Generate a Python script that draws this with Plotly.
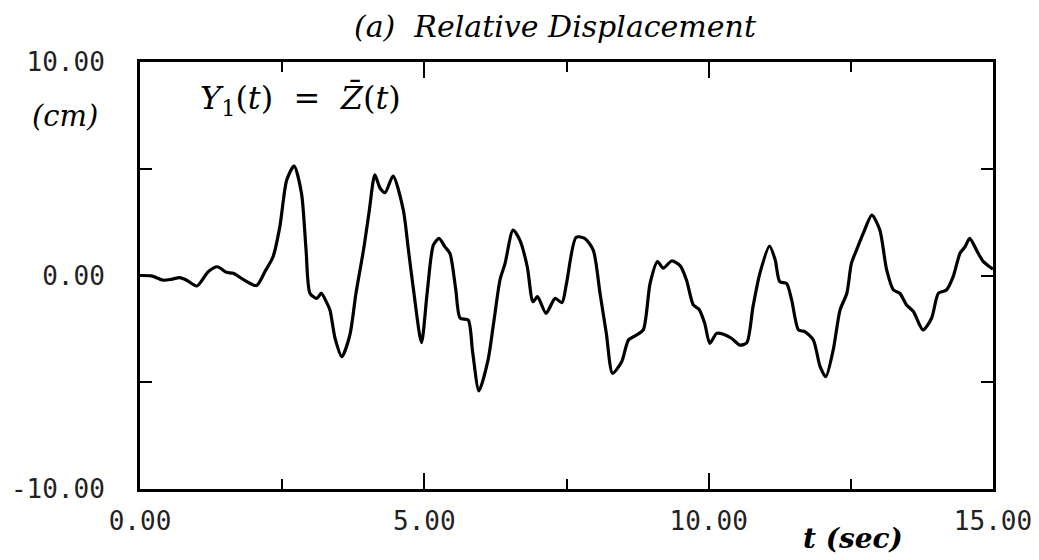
import plotly.graph_objects as go

t_sec = [0.00, 0.20, 0.41, 0.55, 0.70, 0.82, 1.00, 1.20, 1.36, 1.52, 1.64, 1.85, 2.05, 2.20, 2.34,
         2.46, 2.58, 2.71, 2.84, 2.92, 2.99, 3.11, 3.19, 3.27, 3.34, 3.43, 3.55, 3.69, 3.80, 3.93,
         4.03, 4.13, 4.22, 4.31, 4.45, 4.63, 4.72, 4.81, 4.95, 5.05, 5.16, 5.26, 5.36, 5.45, 5.55,
         5.63, 5.77, 5.85, 5.96, 6.12, 6.22, 6.33, 6.42, 6.56, 6.68, 6.81, 6.91, 6.99, 7.14, 7.30,
         7.42, 7.50, 7.67, 7.82, 7.97, 8.09, 8.20, 8.31, 8.47, 8.59, 8.73, 8.85, 8.97, 9.10, 9.20,
         9.35, 9.50, 9.61, 9.73, 9.83, 9.93, 10.02, 10.14, 10.26, 10.40, 10.55, 10.67, 10.78, 10.90,
         11.07, 11.17, 11.25, 11.37, 11.46, 11.58, 11.69, 11.84, 11.96, 12.06, 12.19, 12.31, 12.43,
         12.51, 12.60, 12.72, 12.87, 13.01, 13.13, 13.25, 13.36, 13.48, 13.60, 13.77, 13.92, 14.04,
         14.18, 14.30, 14.42, 14.51, 14.59, 14.71, 14.83, 15.00]
disp_cm = [0.00, -0.02, -0.22, -0.18, -0.10, -0.22, -0.49, 0.18, 0.41, 0.15, 0.10, -0.24, -0.47, 0.20, 0.88,
           2.30, 4.47, 5.13, 3.85, 1.20, -0.84, -1.07, -0.83, -1.20, -1.62, -2.94, -3.80, -2.79, -0.80, 1.19,
           3.00, 4.71, 4.10, 3.88, 4.66, 3.07, 1.20, -0.68, -3.15, -0.80, 1.43, 1.74, 1.35, 1.04, -0.60,
           -2.00, -2.08, -3.60, -5.40, -3.96, -2.20, -0.21, 0.57, 2.13, 1.66, 0.41, -1.23, -0.99, -1.77, -1.07,
           -1.27, -0.37, 1.79, 1.74, 1.19, -0.84, -2.70, -4.58, -4.04, -3.02, -2.79, -2.55, -0.37, 0.65, 0.34,
           0.68, 0.45, -0.21, -1.38, -1.58, -2.24, -3.18, -2.71, -2.75, -2.94, -3.26, -3.15, -1.46, 0.10,
           1.38, 0.73, -0.29, -0.37, -1.15, -2.55, -2.63, -3.02, -4.27, -4.74, -3.49, -1.62, -0.83,
           0.57, 1.19, 1.98, 2.83, 2.13, 0.26, -0.68, -0.83, -1.38, -1.69, -2.55, -2.00, -0.83,
           -0.68, -0.05, 1.04, 1.35, 1.74, 1.19, 0.65, 0.30]

x_major = [0, 5, 10, 15]
x_major_text = ["0.00", "5.00", "10.00", "15.00"]
x_minor = [2.5, 7.5, 12.5]
y_major = [-10, 0, 10]
y_major_text = ["-10.00", "0.00", "10.00"]
y_minor = [-5, 5]

title_text = "(a)  Relative Displacement"
ylabel_text = "(cm)"
xlabel_text = "t (sec)"
legend_text = "<i>Y</i><sub>1</sub>(<i>t</i>)  =  <i>Z̄</i>(<i>t</i>)"

fig = go.Figure()
fig.add_trace(go.Scatter(x=t_sec, y=disp_cm, mode="lines",
                         line=dict(color="black", width=3.2, shape="spline", smoothing=0.7),
                         showlegend=False, hoverinfo="skip"))

tick_font = dict(family="DejaVu Sans Mono", size=26, color="#222")
serif_it = "DejaVu Serif"

W, H = 1039, 560
L, R, T, B = 140, 46, 62, 71
pw, ph = W - L - R, H - T - B


def px(xp):
    return (xp - L) / pw


def py(yp):
    return (H - B - yp) / ph


fig.update_layout(
    width=W, height=H,
    margin=dict(l=L, r=R, t=T, b=B, autoexpand=False),
    paper_bgcolor="white", plot_bgcolor="white",
    xaxis=dict(range=[0, 15], tickvals=x_major, ticktext=x_major_text, automargin=False,
               ticks="inside", ticklen=16, tickwidth=2, tickcolor="black",
               minor=dict(tickvals=x_minor, ticks="inside", ticklen=10, tickwidth=2, tickcolor="black"),
               showline=True, linewidth=3, linecolor="black", mirror="ticks",
               showgrid=False, zeroline=False, tickfont=tick_font, ticklabelstandoff=7),
    yaxis=dict(range=[-10, 10], tickvals=y_major, ticktext=y_major_text, automargin=False,
               ticks="inside", ticklen=12, tickwidth=2, tickcolor="black",
               minor=dict(tickvals=y_minor, ticks="inside", ticklen=12, tickwidth=2, tickcolor="black"),
               showline=True, linewidth=3, linecolor="black", mirror="ticks",
               showgrid=False, zeroline=False, tickfont=tick_font, ticklabelstandoff=27),
    annotations=[
        dict(text="<i>" + title_text + "</i>", x=px(555), y=py(27),
             font=dict(family=serif_it, size=30, color="black")),
        dict(text="<i>" + ylabel_text + "</i>", x=px(65), y=py(116),
             font=dict(family=serif_it, size=29, color="black")),
        dict(text=legend_text, x=px(300), y=py(100),
             font=dict(family=serif_it, size=32, color="black")),
        dict(text="<b><i>" + xlabel_text + "</i></b>", x=px(853), y=py(538),
             font=dict(family=serif_it, size=28, color="black")),
    ],
)
for a in fig.layout.annotations:
    a.xref = "paper"
    a.yref = "paper"
    a.showarrow = False
    a.xanchor = "center"
    a.yanchor = "middle"

fig.write_html("out.html")
